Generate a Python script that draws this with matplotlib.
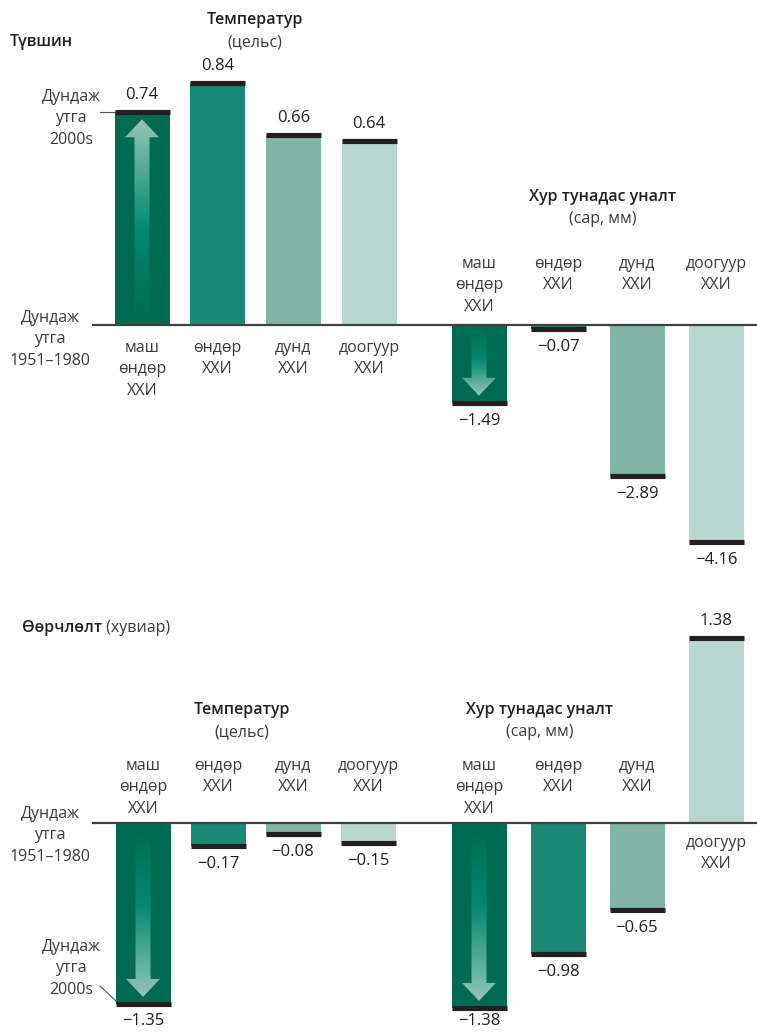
import matplotlib
matplotlib.use('Agg')
import matplotlib.pyplot as plt
import matplotlib.transforms as mtransforms
from matplotlib.patches import Polygon
from matplotlib.lines import Line2D
from matplotlib.colors import to_rgb
import numpy as np

plt.rcParams['font.family'] = ['Open Sans', 'Noto Sans', 'DejaVu Sans']

# --- data -------------------------------------------------------------
categories = ['маш\nөндөр\nХХИ', 'өндөр\nХХИ', 'дунд\nХХИ', 'доогуур\nХХИ']
level_temp = [0.74, 0.84, 0.66, 0.64]
level_precip = [-1.49, -0.07, -2.89, -4.16]
change_temp = [-1.35, -0.17, -0.08, -0.15]
change_precip = [-1.38, -0.98, -0.65, 1.38]

title_level = 'Түвшин'
title_change = 'Өөрчлөлт'
title_change_unit = ' (хувиар)'
temp_title, temp_unit = 'Температур', '(цельс)'
precip_title, precip_unit = 'Хур тунадас уналт', '(сар, мм)'
base_label = 'Дундаж\nутга\n1951–1980'
recent_label = 'Дундаж\nутга\n2000s'

colors = ['#006b50', '#1a8a74', '#80b4a6', '#b8d7d0']
CAP = '#231f20'
TXT = '#231f20'
LBL = '#3a3a3a'

# --- layout (pixels) --------------------------------------------------
W, H = 757, 1032
BAR_W = 55
FS_LBL = 11.5
LS = 1.45
HEAD_W = 'semibold'

fig = plt.figure(figsize=(W / 100, H / 100), dpi=100)


def fx(x):
  return x / W


def fy(y):
  return 1 - y / H


def make_axes(c0, step, top, bottom, zero, k):
  ax = fig.add_axes([fx(c0 - step / 2), fy(bottom), 4 * step / W, (bottom - top) / H])
  ax.axis('off')
  ax.set_xlim(-0.5, 3.5)
  ax.set_ylim(-(bottom - zero) / k, (zero - top) / k)
  return ax


def fmt(v):
  return f'{v:.2f}'.replace('-', '\u2212')


def draw_arrow(ax, xi, v, k, step):
  """Gradient arrow inside the darkest bar, pointing to the bar end."""
  sgn = np.sign(v)
  tip = v - sgn * 7 / k
  base = tip - sgn * 18 / k
  tail = sgn * 3 / k
  hs, hh = 7.5 / step, 17 / step
  verts = [(xi - hs, tail), (xi - hs, base), (xi - hh, base), (xi, tip),
           (xi + hh, base), (xi + hs, base), (xi + hs, tail)]
  poly = Polygon(verts, closed=True, transform=ax.transData, facecolor='none', edgecolor='none')
  n = 200
  t = np.linspace(0, 1, n)  # 0 = tail, 1 = tip
  stops = [0.0, 0.45, 1.0]
  cols = [to_rgb('#006b50'), to_rgb('#00896d'), to_rgb('#96c5b7')]
  rgb = np.stack([np.interp(t, stops, [c[i] for c in cols]) for i in range(3)], axis=-1)
  lo, hi = min(tail, tip), max(tail, tip)
  if sgn < 0:
    rgb = rgb[::-1]  # row 0 at the bottom (tip for downward arrows)
  im = ax.imshow(rgb[:, None, :], extent=[xi - hh, xi + hh, lo, hi], origin='lower',
                 aspect='auto', interpolation='bilinear', zorder=3)
  im.set_clip_path(poly)


def draw_group(ax, vals, k, step, arrow=True):
  xlim, ylim = ax.get_xlim(), ax.get_ylim()
  x = np.arange(len(vals))
  w = BAR_W / step
  ax.bar(x, vals, width=w, color=colors, zorder=2)
  ax.hlines(vals, x - w / 2, x + w / 2, colors=CAP, lw=3.7, zorder=4)
  for xi, v in zip(x, vals):
    y_px = H - ax.transData.transform((xi, v))[1]
    if v > 0:
      off = 17.5
    else:
      off = -min(18.0, H - 11 - y_px)  # keep the lowest labels inside the picture
    ax.annotate(fmt(v), (xi, v), xytext=(0, off * 0.72), textcoords='offset points',
                ha='center', va='center', fontsize=12, color=TXT)
  if arrow:
    draw_arrow(ax, 0, vals[0], k, step)
  ax.set_xlim(*xlim)
  ax.set_ylim(*ylim)


def cat_labels(ax, y_top, which=range(4)):
  tr = mtransforms.blended_transform_factory(ax.transData, fig.transFigure)
  for i in which:
    ax.text(i, fy(y_top), categories[i], transform=tr, ha='center', va='top',
            fontsize=FS_LBL, color=LBL, linespacing=LS)


def title(x, y, head, unit):
  fig.text(fx(x), fy(y), head, ha='center', va='center', fontsize=11.5, fontweight=HEAD_W, color=TXT)
  fig.text(fx(x), fy(y + 22), unit, ha='center', va='center', fontsize=FS_LBL, color=LBL)


def zero_line(y):
  fig.add_artist(Line2D([fx(93), fx(W)], [fy(y), fy(y)], transform=fig.transFigure,
                        color='#404040', lw=1.6, zorder=5))


def side_label(x, y_top, text):
  fig.text(fx(x), fy(y_top), text, ha='center', va='top', fontsize=FS_LBL, color=LBL, linespacing=LS)


# --- top panel: levels ------------------------------------------------
ZERO_T = 325
K_TEMP_T, K_PREC_T = 287.5, 52.2
ax1 = make_axes(142, 75.7, 0, 590, ZERO_T, K_TEMP_T)
draw_group(ax1, level_temp, K_TEMP_T, 75.7)
ax2 = make_axes(479, 79, 0, 590, ZERO_T, K_PREC_T)
draw_group(ax2, level_precip, K_PREC_T, 79)
zero_line(ZERO_T)
cat_labels(ax1, 340)
cat_labels(ax2, 256)

fig.text(fx(10), fy(42), title_level, ha='left', va='center', fontsize=11.5, fontweight=HEAD_W, color=TXT)
title(255, 20, temp_title, temp_unit)
title(603, 197, precip_title, precip_unit)
side_label(71, 89, recent_label)
side_label(50, 310, base_label)
fig.add_artist(Line2D([fx(100), fx(114)], [fy(112), fy(112)], transform=fig.transFigure,
                      color='#555555', lw=0.8))

# --- bottom panel: change ---------------------------------------------
ZERO_B = 823
K_B = 134
ax3 = make_axes(143, 75, 590, H, ZERO_B, K_B)
draw_group(ax3, change_temp, K_B, 75)
ax4 = make_axes(479, 79, 590, H, ZERO_B, K_B)
draw_group(ax4, change_precip, K_B, 79)
zero_line(ZERO_B)
cat_labels(ax3, 758)
cat_labels(ax4, 758, which=range(3))
cat_labels(ax4, 835, which=[3])

t1 = fig.text(fx(22), fy(632), title_change, ha='left', va='baseline', fontsize=11.5,
              fontweight=HEAD_W, color=TXT)
fig.canvas.draw()
x_end = t1.get_window_extent(fig.canvas.get_renderer()).x1
fig.text(x_end / W, fy(632), title_change_unit, ha='left', va='baseline', fontsize=FS_LBL, color=LBL)
title(242, 710, temp_title, temp_unit)
title(540, 710, precip_title, precip_unit)
side_label(50, 806, base_label)
side_label(71, 939, recent_label)
fig.add_artist(Line2D([fx(100), fx(116)], [fy(986), fy(1001)], transform=fig.transFigure,
                      color='#555555', lw=0.8))

plt.savefig('out.png', dpi=100)
